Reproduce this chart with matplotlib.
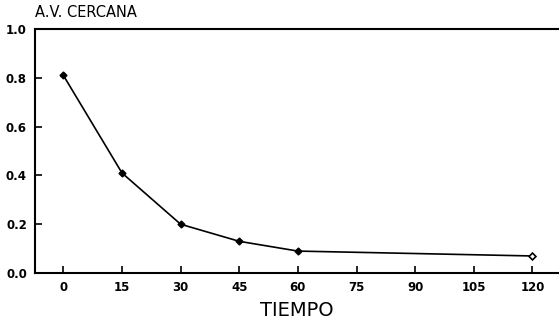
import matplotlib
matplotlib.use("Agg")
import matplotlib.pyplot as plt

tiempo = [0, 15, 30, 45, 60, 120]
av_cercana = [0.81, 0.41, 0.20, 0.13, 0.09, 0.07]
xticks = [0, 15, 30, 45, 60, 75, 90, 105, 120]
yticks = [0.0, 0.2, 0.4, 0.6, 0.8, 1.0]

fig = plt.figure(figsize=(5.59, 3.22), dpi=100)
ax = fig.add_axes([0.063, 0.152, 0.935, 0.758])

ax.plot(tiempo[:-1], av_cercana[:-1], color="black", lw=1.2, marker="D", ms=3.5)
ax.plot(tiempo[-2:], av_cercana[-2:], color="black", lw=1.2)
ax.plot(tiempo[-1], av_cercana[-1], marker="D", ms=3.5, mfc="white", mec="black", mew=1.2)

ax.set_xlim(-7.2, 126.5)
ax.set_ylim(0, 1.0)
ax.set_xticks(xticks)
ax.set_xticklabels([str(t) for t in xticks])
ax.set_yticks(yticks)
ax.set_yticklabels([f"{v:.1f}" for v in yticks])
ax.tick_params(direction="in", length=5, width=1.2, labelsize=8.5, pad=6)
for lab in ax.get_xticklabels() + ax.get_yticklabels():
    lab.set_fontweight("bold")

for s in ["left", "bottom", "top"]:
    ax.spines[s].set_linewidth(1.5)
ax.spines["right"].set_visible(False)

ax.set_xlabel("TIEMPO", fontsize=14, labelpad=5)
ax.text(0.0, 1.035, "A.V. CERCANA", transform=ax.transAxes, fontsize=10.5, va="bottom", ha="left")

fig.savefig("out.png", dpi=100)
